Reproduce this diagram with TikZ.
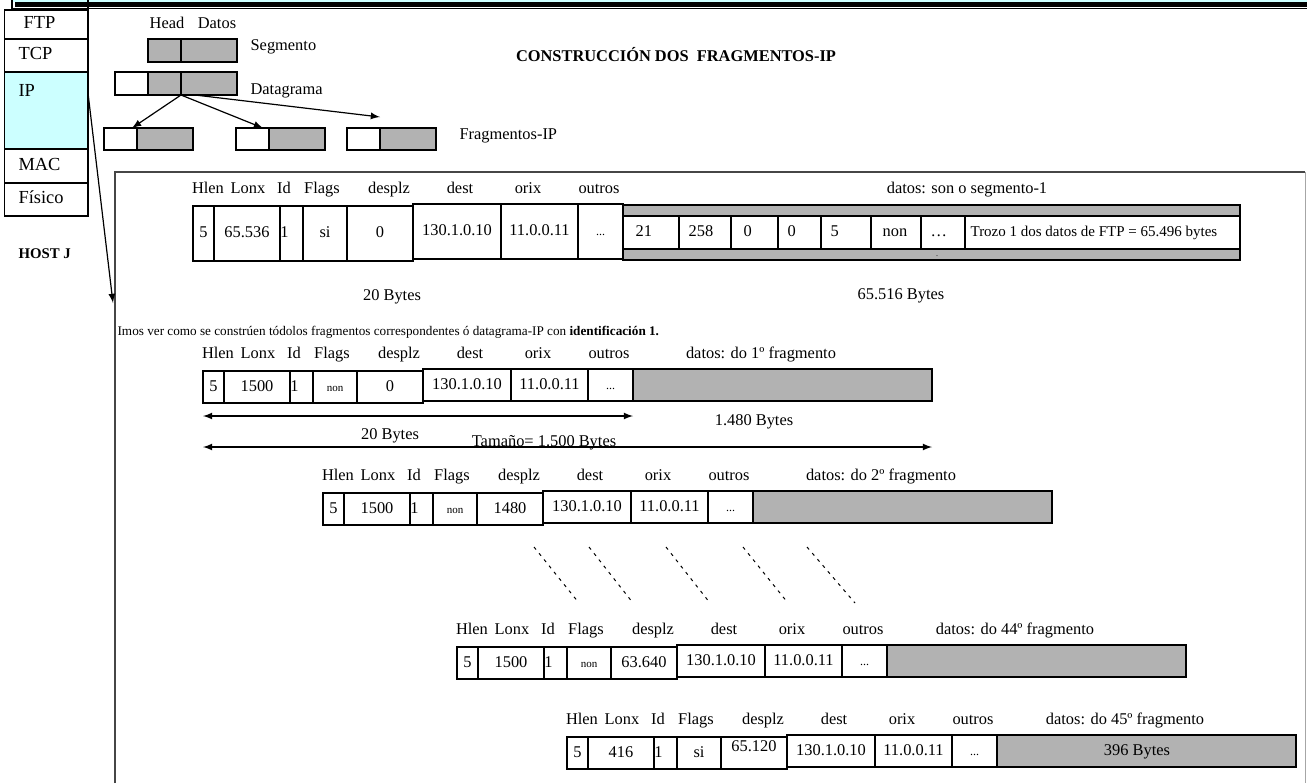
\documentclass[tikz,border=0pt]{standalone}
\usepackage{fontspec}
\setmainfont{Liberation Serif}
\usepackage{tikz}
\definecolor{dataGray}{RGB}{178,178,178}
\definecolor{ipCyan}{RGB}{204,255,255}
\definecolor{frameGray}{RGB}{70,70,70}
\newcommand{\nonf}{{\fontsize{5.5}{6}\selectfont non}}
\newcommand{\hdrdots}{{\fontsize{6}{6}\selectfont ...}}
\newcommand{\trozo}{{\fontsize{7.5}{8}\selectfont Trozo 1 dos datos de FTP = 65.496 bytes}}
\begin{document}
\begin{tikzpicture}[x=0.5pt, y=-0.5pt, inner sep=0pt, line width=0.6pt,
  font=\fontsize{8.2}{9.5}\selectfont, text height=6pt, text depth=1.8pt,
  box/.style={draw, outer sep=0pt, anchor=north west},
  gap/.style={dash pattern=on 1.6pt off 2.4pt, line width=0.5pt}]
 \useasboundingbox (0, 0) rectangle (1307, 783);
 \fill[ipCyan] (12, 0) rectangle (1307, 2);
 \fill (15, 1.5) rectangle (1307, 6.5);
 \draw (12, 0) -- (12, 8.5) -- (1307, 8.5);
 \draw (88, 0) -- (88, 10);
 \fill[ipCyan] (4.5, 72) rectangle (88, 149);
 \foreach \i/\nm/\ya/\yb/\tx/\ty in {1/FTP/10/39/23/24.5, 2/TCP/39/72/18/55.5, 3/IP/72/149/18/92, 4/MAC/149/183/18/166, 5/Físico/183/216/18/199.5}{
   \draw (4.5, \ya) rectangle (88, \yb);
   \node[anchor=west, font=\fontsize{9.2}{10}\selectfont] (layer\i) at (\tx, \ty) {\nm};
 }
 \node[anchor=west, font=\fontsize{7.4}{8}\bfseries] (host) at (18, 254) {HOST J};
 \node[box, fill=dataGray, minimum width=16.5pt, minimum height=11.5pt] (segH) at (148, 39) {};
 \node[box, fill=dataGray, minimum width=28pt, minimum height=11.5pt] (segD) at (181, 39) {};
 \node[box, minimum width=16.5pt, minimum height=11.5pt] (dgI) at (115, 72) {};
 \node[box, fill=dataGray, minimum width=16.5pt, minimum height=11.5pt] (dgH) at (148, 72) {};
 \node[box, fill=dataGray, minimum width=28pt, minimum height=11.5pt] (dgD) at (181, 72) {};
 \foreach \i/\xa in {1/104, 2/236, 3/347}{
   \node[box, minimum width=16.5pt, minimum height=11pt] (frI\i) at (\xa, 128) {};
   \node[box, fill=dataGray, minimum width=28pt, minimum height=11pt] (frD\i) at (\xa+33, 128) {};
 }
 \coordinate (fr3tip) at (380, 117);
 \draw[-latex] (dgD.south west) -- ([xshift=-2.5pt]frI1.north east);
 \draw[-latex] (dgD.south west) -- ([xshift=-3pt]frI2.north east);
 \draw[-latex] ([xshift=7pt]dgD.south west) -- (fr3tip);
 \node (head) at (167, 24) {Head};
 \node (datos) at (217, 24) {Datos};
 \node[anchor=west] (segLbl) at (250, 46) {Segmento};
 \node[anchor=west] (dgLbl) at (250, 90) {Datagrama};
 \node[anchor=west] (frLbl) at (459, 135) {Fragmentos-IP};
 \node[font=\fontsize{8.2}{9}\bfseries] (title) at (676, 57) {CONSTRUCCIÓN DOS~~FRAGMENTOS-IP};
 \draw[frameGray, line width=0.8pt] (115, 783) -- (115, 172) -- (1305, 172);
 \draw[gray!70, line width=0.4pt] (1305, 172) -- (1305, 783);
 \coordinate (ipOut) at (88, 93);
 \coordinate (frameIn) at (113, 303);
 \draw[-latex] (ipOut) -- (frameIn);
 \node[anchor=west, font=\fontsize{6.6}{7}\selectfont] (intro) at (117, 331) {Imos ver como se constrúen tódolos fragmentos correspondentes ó datagrama-IP con \textbf{identificación 1.}};
 \foreach \n/\L/\T/\h/\lonx/\flag/\desp in {m/193/206/55/65.536/si/0, 1/203/371/32/1500/\nonf/0, 2/323/493/32/1500/\nonf/1480, 44/457/647/32/1500/\nonf/63.640, 45/567/737/32/416/si/{\raisebox{3pt}{65.120}}}{
   \foreach \i/\o/\w/\dy/\c in {1/0/21/0/5, 2/21/66/0/\lonx, 3/87/23/0/{1\hspace*{7pt}}, 4/110/44/0/\flag, 5/154/66/0/\desp, 6/220/88/2/130.1.0.10, 7/308/77/2/11.0.0.11, 8/385/45/2/\hdrdots}{
     \draw (\L+\o, \T-\dy) rectangle ++(\w, \h);
     \node (c\n-\i) at (\L+\o+\w/2, \T-\dy+\h/2) {\c};
   }
   \foreach \lab/\dx in {Hlen/15, Lonx/55, Id/91, Flags/129, desplz/196, dest/267, orix/335, outros/406}
     \node (l\n-\lab) at (\L+\dx, \T-16.5) {\lab};
 }
 \draw[fill=dataGray] (623, 205) rectangle (1240, 260);
 \foreach \i/\a/\b/\p/\c in {1/623/679/12/21, 2/679/731/9/258, 3/731/778/12/0, 4/778/821/9/0, 5/821/871/9/5, 6/871/921/11/non, 7/921/965/9/\dots, 8/965/1240/5/\trozo}{
   \draw[fill=white] (\a, 216) rectangle (\b, 249);
   \node[anchor=west] (d\i) at (\a+\p, 232.5) {\c};
 }
 \node[font=\fontsize{4}{4}\selectfont] (dot) at (937, 252) {.};
 \node (datLbl) at (967, 189) {datos: son o segmento-1};
 \node (hdrBytes) at (392, 296) {20 Bytes};
 \node (datBytes) at (901, 295) {65.516 Bytes};
 \foreach \n/\L/\T in {1/203/371, 2/323/493, 44/457/647, 45/567/737}{
   \draw[fill=dataGray] (\L+430, \T-2) rectangle ++(299, 32);
   \node (dat\n) at (\L+558, \T-16.5) {datos: do \n{}º fragmento};
 }
 \node (size45) at (1137, 751) {396 Bytes};
 \coordinate (hdrL) at (203, 416);
 \coordinate (hdrR) at (633, 416);
 \coordinate (totL) at (203, 447);
 \coordinate (totR) at (932, 447);
 \draw[latex-latex] (hdrL) -- (hdrR);
 \draw[latex-latex] (totL) -- (totR);
 \node (f1Hdr) at (390, 435) {20 Bytes};
 \node (f1Dat) at (754, 421) {1.480 Bytes};
 \node (f1Tot) at (544, 442) {Tamaño= 1.500 Bytes};
 \foreach \xa/\xb in {534/579, 589/633, 666/710, 743/788, 807/855}
   \draw[gap] (\xa, 547) -- (\xb, 603);
\end{tikzpicture}
\end{document}
